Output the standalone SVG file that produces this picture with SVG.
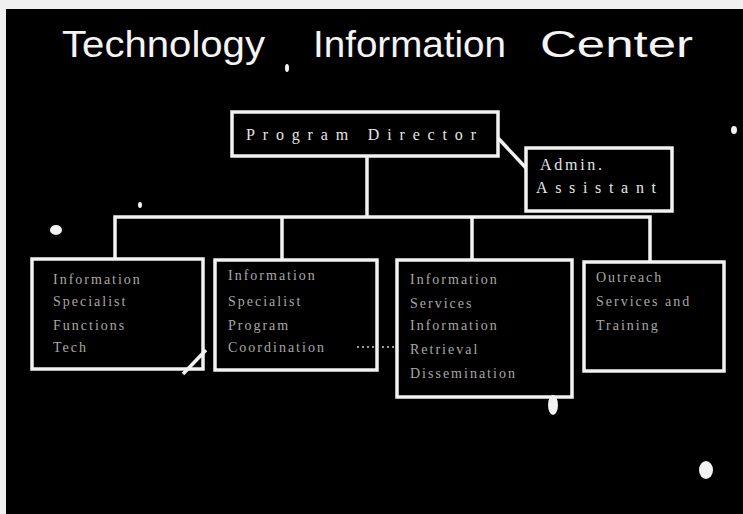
<svg xmlns="http://www.w3.org/2000/svg" width="743" height="514" viewBox="0 0 743 514">
  <style>
    .box { fill: none; stroke: #f2f2f2; stroke-width: 3.5; }
    .conn { fill: none; stroke: #f2f2f2; stroke-width: 3.5; }
    .title { font-family: "Liberation Sans", Arial, sans-serif; font-size: 37px; fill: #f4f4f4; }
    .lbl { font-family: "Liberation Serif", "Times New Roman", serif; font-size: 16px; fill: #e6e6e6; }
    .faint { font-family: "Liberation Serif", "Times New Roman", serif; font-size: 14px; fill: #a8a8a8; letter-spacing: 2px; }
    .speck { fill: #f2f2f2; }
  </style>
  <rect x="0" y="0" width="743" height="514" fill="#f0f0f0"/>
  <rect x="6" y="9" width="737" height="505" fill="#000"/>

  <g id="title">
    <text class="title" x="62" y="57" textLength="203" lengthAdjust="spacingAndGlyphs">Technology</text>
    <text class="title" x="313" y="57" textLength="193" lengthAdjust="spacingAndGlyphs">Information</text>
    <text class="title" x="540" y="57" textLength="153" lengthAdjust="spacingAndGlyphs">Center</text>
  </g>

  <g id="connectors">
    <line class="conn" x1="367" y1="156" x2="367" y2="217"/>
    <polyline class="conn" points="115,259 115,217 650,217 650,261"/>
    <line class="conn" x1="282" y1="217" x2="282" y2="260"/>
    <line class="conn" x1="472" y1="217" x2="472" y2="260"/>
    <line class="conn" x1="498" y1="138" x2="526" y2="168"/>
  </g>

  <g id="program-director">
    <rect class="box" x="232" y="112" width="266" height="44"/>
    <text class="lbl" x="246" y="140" textLength="230" lengthAdjust="spacing">Program  Director</text>
  </g>

  <g id="admin-assistant">
    <rect class="box" x="526" y="148" width="146" height="63"/>
    <text class="lbl" x="540" y="170" textLength="62" lengthAdjust="spacing">Admin.</text>
    <text class="lbl" x="536" y="193" textLength="120" lengthAdjust="spacing">Assistant</text>
  </g>

  <g id="box-1">
    <rect class="box" x="32" y="259" width="171" height="110"/>
    <text class="faint" x="53" y="284">Information</text>
    <text class="faint" x="53" y="306">Specialist</text>
    <text class="faint" x="53" y="330">Functions</text>
    <text class="faint" x="53" y="352">Tech</text>
  </g>

  <g id="box-2">
    <rect class="box" x="215" y="260" width="162" height="110"/>
    <text class="faint" x="228" y="280">Information</text>
    <text class="faint" x="228" y="306">Specialist</text>
    <text class="faint" x="228" y="330">Program</text>
    <text class="faint" x="228" y="352">Coordination</text>
  </g>

  <g id="box-3">
    <rect class="box" x="397" y="260" width="175" height="137"/>
    <text class="faint" x="410" y="284">Information</text>
    <text class="faint" x="410" y="308">Services</text>
    <text class="faint" x="410" y="330">Information</text>
    <text class="faint" x="410" y="354">Retrieval</text>
    <text class="faint" x="410" y="378">Dissemination</text>
  </g>

  <g id="box-4">
    <rect class="box" x="584" y="262" width="140" height="109"/>
    <text class="faint" x="596" y="282">Outreach</text>
    <text class="faint" x="596" y="306">Services and</text>
    <text class="faint" x="596" y="330">Training</text>
  </g>

  <g id="marks">
    <line class="conn" x1="183" y1="374" x2="206" y2="350" stroke-width="2.5"/>
    <line x1="357" y1="347" x2="397" y2="347" stroke="#cfcfcf" stroke-width="1.5" stroke-dasharray="2 3"/>
    <ellipse class="speck" cx="553" cy="405" rx="5" ry="10"/>
    <ellipse class="speck" cx="706" cy="470" rx="7" ry="9"/>
    <ellipse class="speck" cx="56" cy="230" rx="6" ry="5"/>
    <ellipse class="speck" cx="140" cy="205" rx="2" ry="3"/>
    <ellipse class="speck" cx="287" cy="68" rx="2" ry="4"/>
    <ellipse class="speck" cx="734" cy="130" rx="3" ry="4"/>
  </g>
</svg>
